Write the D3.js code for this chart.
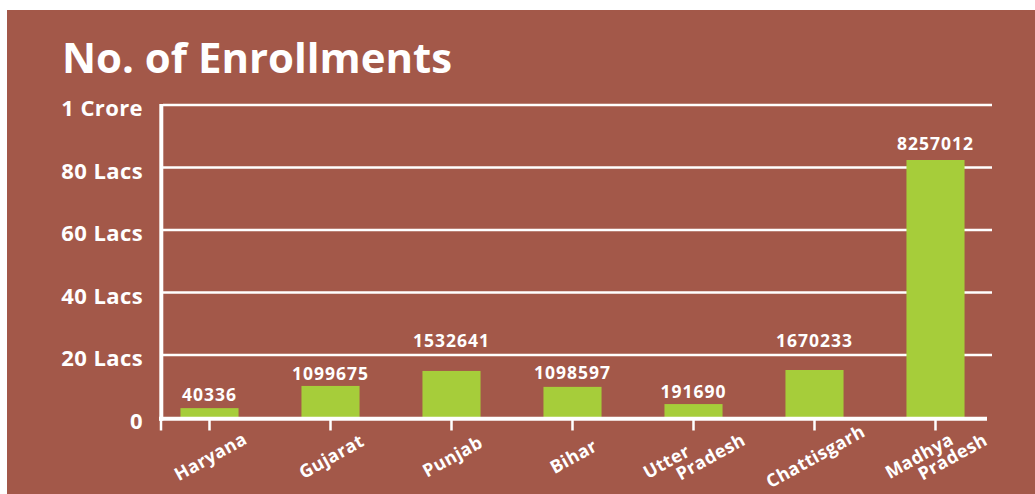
<!DOCTYPE html>
<html>
<head>
<meta charset="utf-8">
<script src="https://cdn.jsdelivr.net/npm/d3@7"></script>
<style>
  html, body { margin: 0; padding: 0; background: #ffffff; }
  svg { display: block; }
  text { font-family: "Open Sans", "DejaVu Sans", sans-serif; font-weight: 700; fill: #ffffff; }
</style>
</head>
<body>
<svg id="chart" width="1035" height="494"></svg>
<script>
// ---------- data ----------
const titleText = "No. of Enrollments";
const states = ["Haryana", "Gujarat", "Punjab", "Bihar", "Utter\nPradesh", "Chattisgarh", "Madhya\nPradesh"];
// enrollment figures printed above each bar
const enrollments = [40336, 1099675, 1532641, 1098597, 191690, 1670233, 8257012];
// bar heights as drawn in the picture (in lacs)
const barLacs = [3.0, 10.1, 14.9, 9.8, 4.3, 15.2, 82.4];
const yTickValues = [0, 20, 40, 60, 80, 100];
const yTickLabels = ["0", "20 Lacs", "40 Lacs", "60 Lacs", "80 Lacs", "1 Crore"];

// ---------- layout / style ----------
const labelGap = [7, 6, 24, 7.5, 6, 23, 10];
const panelColor = "#A35849";
const barColor = "#A6CD3A";

const svg = d3.select("#chart");
svg.append("rect").attr("x", 7).attr("y", 10).attr("width", 1028).attr("height", 484).attr("fill", panelColor);

svg.append("text").attr("x", 62).attr("y", 73)
  .attr("font-size", 41).attr("font-weight", 800)
  .attr("textLength", 390).attr("lengthAdjust", "spacingAndGlyphs")
  .text(titleText);

const x = d3.scaleBand().domain(d3.range(states.length)).range([149, 996])
  .paddingInner(0.52).paddingOuter(0.26);
const y = d3.scaleLinear().domain([0, 100]).range([417.5, 105]);

// gridlines
svg.append("g").selectAll("line").data(yTickValues.filter(v => v > 0)).join("line")
  .attr("x1", 163).attr("x2", 992)
  .attr("y1", d => y(d)).attr("y2", d => y(d))
  .attr("stroke", "#fff").attr("stroke-width", 2.6);

// y tick labels
svg.append("g").selectAll("text").data(yTickValues).join("text")
  .attr("x", 143).attr("y", d => y(d) + 11)
  .attr("text-anchor", "end").attr("font-size", 22).attr("letter-spacing", 0.4)
  .text((d, i) => yTickLabels[i]);

// bars
svg.append("g").selectAll("rect").data(barLacs).join("rect")
  .attr("x", (d, i) => x(i)).attr("width", x.bandwidth())
  .attr("y", d => y(d)).attr("height", d => y(0) - y(d))
  .attr("fill", barColor);

// value labels
svg.append("g").selectAll("text").data(enrollments).join("text")
  .attr("x", (d, i) => x(i) + x.bandwidth() / 2)
  .attr("y", (d, i) => y(barLacs[i]) - labelGap[i])
  .attr("text-anchor", "middle").attr("font-size", 17.5).attr("letter-spacing", 1)
  .text(d => d);

// axes lines
svg.append("line").attr("x1", 161.3).attr("x2", 161.3).attr("y1", 104).attr("y2", 420.7)
  .attr("stroke", "#fff").attr("stroke-width", 4);
svg.append("line").attr("x1", 159).attr("x2", 987).attr("y1", 418.7).attr("y2", 418.7)
  .attr("stroke", "#fff").attr("stroke-width", 4);

// tick marks
const tickXs = [161].concat(d3.range(states.length).map(i => x(i) + x.bandwidth() / 2));
svg.append("g").selectAll("line").data(tickXs).join("line")
  .attr("x1", d => d).attr("x2", d => d).attr("y1", 420).attr("y2", 430.5)
  .attr("stroke", "#fff").attr("stroke-width", 2.5);

// category labels
const cat = svg.append("g").selectAll("g").data(states).join("g")
  .attr("transform", (d, i) => `translate(${x(i) + x.bandwidth() / 2 + 4},462) rotate(-29)`);
cat.each(function(d) {
  const g = d3.select(this);
  const lines = d.split("\n");
  if (lines.length === 1) {
    g.append("text").attr("text-anchor", "middle").attr("y", 0)
      .attr("font-size", 18).attr("letter-spacing", 0.4).text(d);
  } else {
    g.append("text").attr("x", -52).attr("y", -9)
      .attr("font-size", 18).attr("letter-spacing", 0.4).text(lines[0]);
    g.append("text").attr("x", -24).attr("y", 8)
      .attr("font-size", 18).attr("letter-spacing", 0.4).text(lines[1]);
  }
});
</script>
</body>
</html>
